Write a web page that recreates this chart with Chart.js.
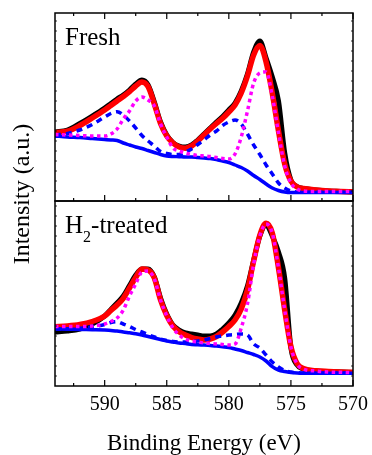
<!DOCTYPE html>
<html>
<head>
<meta charset="utf-8">
<script src="https://cdn.jsdelivr.net/npm/chart.js@4.4.0/dist/chart.umd.min.js"></script>
<style>
  html, body { margin: 0; padding: 0; background: #fff; }
  #wrap { position: relative; width: 372px; height: 455px; }
  #wrap canvas { position: absolute; left: 0; top: 0; }
</style>
</head>
<body>
<div id="wrap">
  <canvas id="freshChart" width="372" height="455"></canvas>
  <canvas id="h2Chart" width="372" height="455"></canvas>
</div>
<script>
// Binding energy grid (eV), shared by both panels
const energy = [594, 593, 592, 591, 590, 589.5, 589, 588.5, 588, 587.5, 587, 586.5, 586, 585.5, 585, 584.5,
  584, 583.5, 583, 582.5, 582, 581.5, 581, 580.5, 580, 579.5, 579, 578.5, 578, 577.5, 577, 576.5,
  576, 575.5, 575, 574.5, 574, 573, 572, 571, 570];

// Fresh sample (a.u.)
const freshRaw = [69, 71, 77.5, 85, 93, 97.5, 102, 106, 111, 117, 121, 116, 99, 79, 66, 58.5,
  55, 54, 56, 61, 67, 73, 79, 84.5, 91, 98, 110, 127, 149, 160, 143, 124,
  100, 48, 21, 14.5, 12.5, 11, 10, 9.5, 9];
const freshFit = [68.3, 69.8, 75.5, 83, 91, 95.5, 100, 104.5, 109.3, 115, 119, 114.3, 97, 77.5, 65, 58,
  54, 52.8, 55, 60, 66, 72, 77.5, 82.7, 89, 96, 108, 125, 146, 155.5, 139, 107.7,
  70, 37, 20, 14, 12.5, 11, 10, 9.5, 9.3];
const freshBackground = [65, 64, 63.5, 62.5, 61.5, 61, 60.5, 58, 56, 54, 52.5, 50.5, 48.5, 46.5, 45, 44.5,
  44.3, 44, 44, 43.5, 43, 42.5, 41.5, 40, 38.5, 36, 33.5, 30, 25.5, 21.5, 17, 13,
  10.5, 9, 8.5, 8.5, 8.5, 8.5, 8.5, 8.5, 8.5];
const freshPeak1 = [66, 67.5, 71, 76.5, 84, 87.5, 89.3, 86, 80, 73, 65.5, 60, 55, 49.5, 47.5, 46.5,
  46.5, 49, 52, 56.5, 61, 66, 70, 75.5, 79, 81, 77, 67, 56, 46.5, 36, 27,
  18, 13, 10, 9, 8.7, 8.7, 8.7, 8.7, 8.7];
const freshPeak2 = [66.5, 66, 65.5, 65, 65, 67, 72, 82, 90, 100, 104, 101, 95, 77, 64, 53,
  50, 48, 46.5, 45.5, 45, 44.5, 43.5, 42.5, 42, 47, 64, 90, 118, 128, 129, 105,
  68, 35, 18, 12, 10, 9.5, 9.5, 9.5, 9.5];

// H2-treated sample (a.u.)
const h2Raw = [54, 55, 57, 62, 70, 76.5, 83, 90, 100.5, 111, 117, 117, 109, 88, 72, 61,
  56, 53, 52, 51, 50, 50, 52, 57, 63, 71, 83, 100, 126, 150, 161, 150,
  134, 108, 38, 21, 17, 15, 14.5, 14, 13.5];
const h2Fit = [59.3, 60, 61.5, 64.5, 70, 75.5, 81, 87.7, 98, 108.5, 117, 116, 108, 86, 70.5, 60,
  54.3, 51, 48.5, 47, 46, 47, 49.5, 54, 59.5, 66, 77, 96, 125, 151, 162.7, 153,
  118, 76, 39.3, 22.5, 17.5, 15.3, 14.5, 14, 13.7];
const h2Background = [57, 56.8, 56.5, 56.3, 56, 55.5, 55, 54, 53.2, 52.3, 51, 49.5, 48, 46.5, 45, 44,
  43, 42.5, 41.5, 41.3, 41, 40.5, 40, 39.3, 38.5, 37, 35.5, 33.5, 31.5, 29, 25, 19.3,
  16, 14.5, 13.5, 13, 12.8, 12.8, 12.8, 12.8, 12.8];
const h2Peak1 = [57, 57.3, 57.8, 59, 61.5, 63.5, 64.3, 62, 59.5, 56.5, 54, 51.5, 49, 47, 45.5, 44.5,
  44, 44, 44.5, 45, 46, 47.5, 49, 50, 51, 51.5, 52, 51, 42, 38, 31, 24,
  19, 15.5, 14, 13.3, 13, 13, 13, 13, 13];
const h2Peak2 = [59.5, 59.5, 59.5, 60, 62, 64.5, 68, 76, 90, 102, 114, 115, 107, 86, 70, 58,
  51, 47, 45, 44, 43, 42.5, 42, 41.5, 41, 42, 58, 82, 122, 150, 162, 153,
  118, 76, 39, 22, 17, 15, 14, 13.7, 13.5];

// Axis ticks
const xMajorTicks = [590, 585, 580, 575, 570];
const xMinorTicks = [592.5, 587.5, 582.5, 577.5, 572.5];

const SERIF = '"Liberation Serif", "Times New Roman", serif';

function pts(vals) {
    return energy.map((e, i) => ({ x: e, y: vals[i] }));
}

function spectrumDatasets(raw, fit, bg, peak1, peak2) {
    return [
        { label: 'Raw', data: pts(raw), borderColor: '#000000', borderWidth: 5, order: 5 },
        { label: 'Fit', data: pts(fit), borderColor: '#ff0000', borderWidth: 5.5, order: 4 },
        { label: 'Background', data: pts(bg), borderColor: '#0000ff', borderWidth: 3.5, order: 3 },
        { label: 'Peak 1', data: pts(peak1), borderColor: '#0000ff', borderWidth: 3.5, borderDash: [6, 5], order: 2 },
        { label: 'Peak 2', data: pts(peak2), borderColor: '#ff00ff', borderWidth: 3.5, borderDash: [3.5, 3.5], order: 1 }
    ];
}

// Frame, inward ticks, panel label and y title
const panelFrame = {
    id: 'panelFrame',
    afterDraw(chart, args, opts) {
        const ctx = chart.ctx;
        const area = chart.chartArea;
        const xs = chart.scales.x;
        const ys = chart.scales.y;
        ctx.save();
        ctx.strokeStyle = '#000';
        ctx.lineWidth = 1.5;
        ctx.strokeRect(area.left, area.top, area.right - area.left, area.bottom - area.top);

        ctx.lineWidth = 1.2;
        ctx.beginPath();
        xMajorTicks.concat(xMinorTicks).forEach(v => {
            const px = xs.getPixelForValue(v);
            const len = v % 5 === 0 ? 6 : 3;
            ctx.moveTo(px, area.bottom);
            ctx.lineTo(px, area.bottom - len);
            if (opts.topTicks) {
                ctx.moveTo(px, area.top);
                ctx.lineTo(px, area.top + len);
            }
        });
        ctx.stroke();

        ctx.lineWidth = 0.8;
        ctx.beginPath();
        for (let v = ys.min + 10; v < ys.max; v += 10) {
            const py = ys.getPixelForValue(v);
            ctx.moveTo(area.left, py);
            ctx.lineTo(area.left + 2, py);
            ctx.moveTo(area.right, py);
            ctx.lineTo(area.right - 2, py);
        }
        ctx.stroke();

        // panel label, pieces may be subscripted
        ctx.fillStyle = '#000';
        ctx.textBaseline = 'alphabetic';
        ctx.textAlign = 'left';
        let x = area.left + 10;
        const base = area.top + 32;
        opts.label.forEach(part => {
            ctx.font = part.size + 'px ' + SERIF;
            ctx.fillText(part.text, x, base + (part.dy || 0));
            x += ctx.measureText(part.text).width;
        });

        if (opts.yTitle) {
            ctx.translate(opts.yTitle.x, opts.yTitle.y);
            ctx.rotate(-Math.PI / 2);
            ctx.textAlign = 'center';
            ctx.font = '24px ' + SERIF;
            ctx.fillText(opts.yTitle.text, 0, 0);
        }
        ctx.restore();
    }
};

const commonDataset = {
    pointRadius: 0,
    fill: false,
    cubicInterpolationMode: 'monotone',
    borderCapStyle: 'butt',
    borderJoinStyle: 'round'
};

function makeChart(id, datasets, yMax, padding, frameOpts, showX) {
    const ctx = document.getElementById(id).getContext('2d');
    return new Chart(ctx, {
        type: 'line',
        data: { datasets: datasets.map(d => Object.assign({}, commonDataset, d)) },
        plugins: [panelFrame],
        options: {
            responsive: false,
            animation: false,
            devicePixelRatio: 1,
            events: [],
            layout: { padding: padding },
            scales: {
                x: {
                    type: 'linear',
                    min: 570,
                    max: 594,
                    reverse: true,
                    display: showX,
                    grid: { display: false },
                    border: { display: false },
                    afterBuildTicks: s => { s.ticks = xMajorTicks.map(v => ({ value: v })); },
                    ticks: {
                        color: '#000',
                        font: { family: SERIF, size: 20, lineHeight: 1 },
                        padding: 1,
                        maxRotation: 0,
                        autoSkip: false
                    },
                    title: {
                        display: showX,
                        text: 'Binding Energy (eV)',
                        color: '#000',
                        font: { family: SERIF, size: 23, lineHeight: 1 },
                        padding: 0
                    },
                    afterFit: s => { if (showX) s.height = 69; }
                },
                y: {
                    display: false,
                    min: 0,
                    max: yMax
                }
            },
            plugins: {
                legend: { display: false },
                tooltip: { enabled: false },
                panelFrame: frameOpts
            }
        }
    });
}

window.onload = function() {
    makeChart('freshChart',
        spectrumDatasets(freshRaw, freshFit, freshBackground, freshPeak1, freshPeak2),
        188,
        { left: 55, right: 19, top: 13, bottom: 254 },
        { topTicks: true, label: [{ text: 'Fresh', size: 25 }] },
        false);

    makeChart('h2Chart',
        spectrumDatasets(h2Raw, h2Fit, h2Background, h2Peak1, h2Peak2),
        185,
        { left: 55, right: 19, top: 201, bottom: 0 },
        {
            topTicks: false,
            label: [{ text: 'H', size: 25 }, { text: '2', size: 16, dy: 9 }, { text: '-treated', size: 25 }],
            yTitle: { text: 'Intensity (a.u.)', x: 29, y: 194 }
        },
        true);
};
</script>
</body>
</html>
